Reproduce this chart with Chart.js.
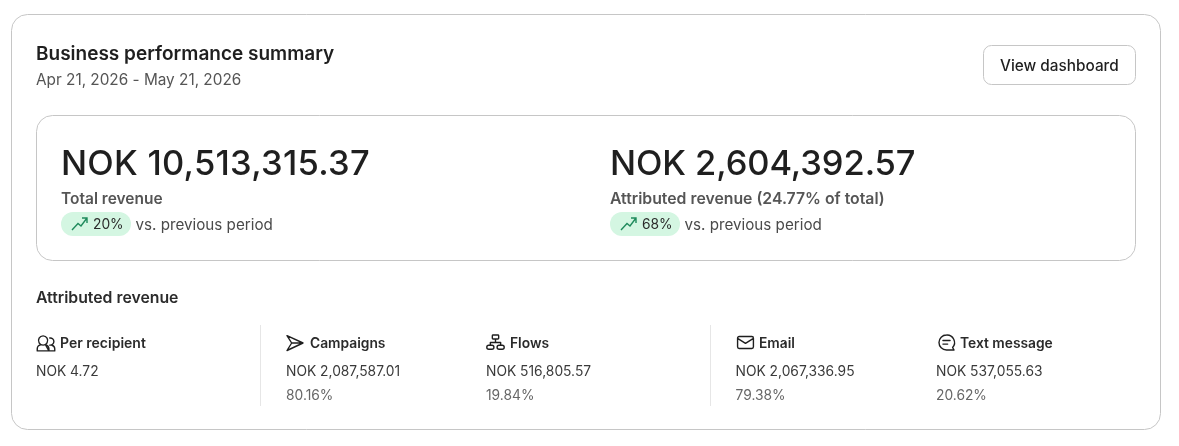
<!DOCTYPE html>
<html>
<head>
<meta charset="utf-8">
<title>Business performance summary</title>
<script src="https://cdn.jsdelivr.net/npm/chart.js@4"></script>
<style>
  html, body { margin: 0; padding: 0; background: #fff; }
  canvas { display: block; }
</style>
</head>
<body>
<canvas id="summaryChart" width="1179" height="446"></canvas>
<script>
const kpiLabels = ['Total revenue', 'Attributed revenue (24.77% of total)'];
const kpiValues = [10513315.37, 2604392.57];
const kpiChanges = [20, 68];
const channelLabels = ['Campaigns', 'Flows', 'Email', 'Text message'];
const channelValues = [2087587.01, 516805.57, 2067336.95, 537055.63];
const channelShares = [80.16, 19.84, 79.38, 20.62];
const perRecipient = 4.72;

const FONT = 'Inter, "Noto Sans", sans-serif';

function nok(v) {
    return 'NOK ' + v.toLocaleString('en-US', { minimumFractionDigits: 2, maximumFractionDigits: 2 });
}

function text(ctx, str, x, y, font, color, spacing) {
    ctx.font = font + ' ' + FONT;
    ctx.fillStyle = color;
    ctx.letterSpacing = (spacing || 0) + 'px';
    ctx.textAlign = 'left';
    ctx.textBaseline = 'alphabetic';
    ctx.fillText(str, x, y);
    ctx.letterSpacing = '0px';
}

function frame(ctx, x, y, w, h, r, color) {
    ctx.beginPath();
    ctx.roundRect(x, y, w, h, r);
    ctx.strokeStyle = color;
    ctx.lineWidth = 1;
    ctx.stroke();
}

// icons are in a 24 unit box
const icons = {
    people: 'M1.500 21.500V19a5 5 0 0 1 4-4.800 M11.500 14.200a5 5 0 0 1 4 4.800v2.500z M1.500 21.500h14 M8.500 3.500a5.500 5.500 0 1 0 .01 0z M15.500 21.500h7V19a4.500 4.500 0 0 0-3.500-4.300 M16.500 6a4.300 4.300 0 1 1 0 8.500',
    send: 'M2.400 3.100 21.600 12 2.400 21 8 12z M8 12H21.600',
    flows: 'M9 2.500h6a1 1 0 0 1 1 1v3a1 1 0 0 1-1 1H9a1 1 0 0 1-1-1v-3a1 1 0 0 1 1-1z M12 7.500V12 M5.500 12h13 M5.500 12v3 M18.500 12v3 M3.500 15.500h4a2 2 0 0 1 0 5h-4a2 2 0 0 1 0-5z M16.500 15.500h4a2 2 0 0 1 0 5h-4a2 2 0 0 1 0-5z',
    mail: 'M4 4.500h16a2 2 0 0 1 2 2v11a2 2 0 0 1-2 2H4a2 2 0 0 1-2-2v-11a2 2 0 0 1 2-2z M2.500 7 12 13l9.500-6',
    message: 'M12 2.500a9.500 9.500 0 1 0 0 19h9.500l-1.800-3.200A9.500 9.500 0 0 0 12 2.500z M7.500 9.500h9 M7.500 14h6'
};

function icon(ctx, name, x, y, size, width) {
    ctx.save();
    ctx.translate(x, y);
    ctx.scale(size / 24, size / 24);
    ctx.strokeStyle = '#1f1f1f';
    ctx.lineWidth = width * 24 / size;
    ctx.lineJoin = 'round';
    ctx.lineCap = 'round';
    ctx.stroke(new Path2D(icons[name]));
    ctx.restore();
}

function pill(ctx, x, change) {
    ctx.beginPath();
    ctx.roundRect(x, 212, 70, 24, 12);
    ctx.fillStyle = '#d4f6e2';
    ctx.fill();
    ctx.beginPath();
    ctx.moveTo(x + 11, 230);
    ctx.lineTo(x + 17, 223.500);
    ctx.lineTo(x + 20, 226);
    ctx.lineTo(x + 26, 218);
    ctx.moveTo(x + 21, 218);
    ctx.lineTo(x + 26, 218);
    ctx.lineTo(x + 26, 223);
    ctx.strokeStyle = '#1f8a5c';
    ctx.lineWidth = 1.4;
    ctx.stroke();
    text(ctx, change + '%', x + 32, 229, '400 13.8px', '#2b2b2b');
    text(ctx, 'vs. previous period', x + 74.500, 230, '400 15.2px', '#4a4a4a');
}

const summaryPlugin = {
    id: 'summaryCard',
    afterDraw(chart) {
        const ctx = chart.ctx;
        const ds = chart.data.datasets[0];

        frame(ctx, 11.5, 14.5, 1149, 415, 16, '#c6c6c6');
        frame(ctx, 36.5, 115.5, 1099, 145, 16, '#c6c6c6');
        frame(ctx, 983.5, 45.5, 152, 39, 8, '#c6c6c6');

        text(ctx, 'Business performance summary', 36, 60, '600 19px', '#1f1f1f');
        text(ctx, 'Apr 21, 2026 - May 21, 2026', 36, 85, '400 15.33px', '#555555');
        text(ctx, 'View dashboard', 1000, 71, '500 15.35px', '#1f1f1f');

        const bigSpacing = [0.25, -0.1];
        const labelSize = [15.5, 15.8];
        [61, 610].forEach(function(x, i) {
            text(ctx, nok(kpiValues[i]), x, 175, '500 34.5px', '#1f1f1f', bigSpacing[i]);
            text(ctx, kpiLabels[i], x, 204, '600 ' + labelSize[i] + 'px', '#555555');
            pill(ctx, x, kpiChanges[i]);
        });

        text(ctx, 'Attributed revenue', 36, 303, '600 15.8px', '#2b2b2b');

        ctx.fillStyle = '#e6e6e6';
        ctx.fillRect(260, 325, 1, 81);
        ctx.fillRect(710, 325, 1, 81);

        icon(ctx, 'people', 36, 333, 20, 1.4);
        text(ctx, 'Per recipient', 60, 348, '600 14px', '#2b2b2b');
        text(ctx, nok(perRecipient), 36, 376, '400 13.8px', '#3a3a3a');

        const colX = [286, 486, 735.5, 936];
        const iconX = [285, 486, 736, 937];
        const iconSize = [20, 19, 19, 19];
        const iconNames = ['send', 'flows', 'mail', 'message'];
        const labelX = [310, 510, 759, 960];
        chart.data.labels.forEach(function(label, i) {
            icon(ctx, iconNames[i], iconX[i], 333, iconSize[i], 1.4);
            text(ctx, label, labelX[i], 348, '600 13.8px', '#2b2b2b');
            text(ctx, nok(ds.data[i]), colX[i], 376, '400 13.8px', '#3a3a3a');
            text(ctx, channelShares[i].toFixed(2) + '%', colX[i], 400, '400 13.8px', '#666666');
        });
    }
};

new Chart(document.getElementById('summaryChart').getContext('2d'), {
    type: 'bar',
    data: {
        labels: channelLabels,
        datasets: [{ label: 'Attributed revenue', data: channelValues, backgroundColor: 'transparent' }]
    },
    options: {
        responsive: false,
        animation: false,
        events: [],
        plugins: { legend: { display: false }, tooltip: { enabled: false } },
        scales: { x: { display: false }, y: { display: false, beginAtZero: true } }
    },
    plugins: [summaryPlugin]
});
</script>
</body>
</html>
